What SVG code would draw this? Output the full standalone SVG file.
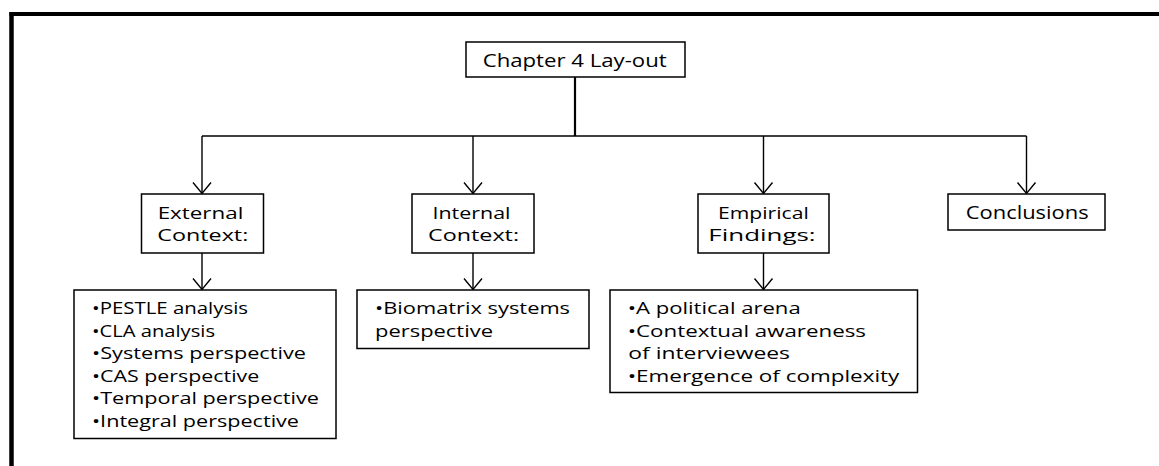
<svg xmlns="http://www.w3.org/2000/svg" width="1159" height="466" viewBox="0 0 1159 466">
  <style>
    .box { fill: #ffffff; stroke: #000000; stroke-width: 1.5; }
    .link { fill: none; stroke: #000000; stroke-width: 1.4; }
    .trunk { fill: none; stroke: #000000; stroke-width: 2.2; }
    .frame { fill: none; stroke: #000000; }
    .big { font-family: "Open Sans", "Liberation Sans", sans-serif; font-size: 19px; fill: #000000; }
    .txt { font-family: "Open Sans", "Liberation Sans", sans-serif; font-size: 16.5px; fill: #000000; }
  </style>
  <defs>
    <marker id="open-arrow" markerUnits="userSpaceOnUse" markerWidth="14" markerHeight="22" viewBox="0 0 14 22" refX="12" refY="10" orient="auto">
      <path d="M1,1 L12,10 L1,19" fill="none" stroke="#000000" stroke-width="1.4"/>
    </marker>
  </defs>

  <rect width="1159" height="466" fill="#ffffff"/>

  <!-- page frame: top and left edges only -->
  <g id="frame">
    <line class="frame" x1="11.5" y1="12" x2="11.5" y2="466" stroke-width="4.5"/>
    <line class="frame" x1="9.5" y1="14" x2="1159" y2="14" stroke-width="4"/>
  </g>

  <!-- connectors -->
  <g id="connectors">
    <line class="trunk" x1="575" y1="77" x2="575" y2="136"/>
    <line class="link" x1="202" y1="136" x2="1026.5" y2="136"/>
    <line class="link" x1="202" y1="136" x2="202" y2="193.5" marker-end="url(#open-arrow)"/>
    <line class="link" x1="473" y1="136" x2="473" y2="193.5" marker-end="url(#open-arrow)"/>
    <line class="link" x1="763.5" y1="136" x2="763.5" y2="193.5" marker-end="url(#open-arrow)"/>
    <line class="link" x1="1026.5" y1="136" x2="1026.5" y2="193.5" marker-end="url(#open-arrow)"/>
    <line class="link" x1="202" y1="253" x2="202" y2="289.5" marker-end="url(#open-arrow)"/>
    <line class="link" x1="473" y1="253" x2="473" y2="289.5" marker-end="url(#open-arrow)"/>
    <line class="link" x1="763.5" y1="253" x2="763.5" y2="289.5" marker-end="url(#open-arrow)"/>
  </g>

  <g id="chapter-layout">
    <rect class="box" x="466" y="42" width="219" height="35"/>
    <text class="big" x="574.7" y="66.7" text-anchor="middle" textLength="184" lengthAdjust="spacingAndGlyphs">Chapter 4 Lay-out</text>
  </g>

  <g id="external-context">
    <rect class="box" x="141.5" y="194" width="122" height="59"/>
    <text class="txt" x="200.5" y="219" text-anchor="middle" textLength="85.6" lengthAdjust="spacingAndGlyphs">External</text>
    <text class="txt" x="202.8" y="241" text-anchor="middle" textLength="91" lengthAdjust="spacingAndGlyphs">Context:</text>
  </g>

  <g id="internal-context">
    <rect class="box" x="412" y="194" width="122" height="59"/>
    <text class="txt" x="471.5" y="219" text-anchor="middle" textLength="78" lengthAdjust="spacingAndGlyphs">Internal</text>
    <text class="txt" x="473.5" y="241" text-anchor="middle" textLength="91" lengthAdjust="spacingAndGlyphs">Context:</text>
  </g>

  <g id="empirical-findings">
    <rect class="box" x="698" y="194" width="131" height="59"/>
    <text class="txt" x="763.4" y="219" text-anchor="middle" textLength="90.7" lengthAdjust="spacingAndGlyphs">Empirical</text>
    <text class="txt" x="762" y="241" text-anchor="middle" textLength="107.4" lengthAdjust="spacingAndGlyphs">Findings:</text>
  </g>

  <g id="conclusions">
    <rect class="box" x="948" y="194" width="157" height="36"/>
    <text class="big" x="1027.2" y="219.3" text-anchor="middle" textLength="123" lengthAdjust="spacingAndGlyphs">Conclusions</text>
  </g>

  <g id="external-list">
    <rect class="box" x="74" y="290" width="262" height="148.5"/>
    <text class="txt" x="92" y="314.3" textLength="156" lengthAdjust="spacingAndGlyphs">•PESTLE analysis</text>
    <text class="txt" x="92" y="336.7" textLength="123" lengthAdjust="spacingAndGlyphs">•CLA analysis</text>
    <text class="txt" x="92" y="359.3" textLength="214" lengthAdjust="spacingAndGlyphs">•Systems perspective</text>
    <text class="txt" x="92" y="381.7" textLength="167.3" lengthAdjust="spacingAndGlyphs">•CAS perspective</text>
    <text class="txt" x="92" y="404.3" textLength="227" lengthAdjust="spacingAndGlyphs">•Temporal perspective</text>
    <text class="txt" x="92" y="426.7" textLength="207" lengthAdjust="spacingAndGlyphs">•Integral perspective</text>
  </g>

  <g id="internal-list">
    <rect class="box" x="357" y="290" width="232" height="58.5"/>
    <text class="txt" x="375" y="314.3" textLength="195" lengthAdjust="spacingAndGlyphs">•Biomatrix systems</text>
    <text class="txt" x="375" y="336.7" textLength="118" lengthAdjust="spacingAndGlyphs">perspective</text>
  </g>

  <g id="empirical-list">
    <rect class="box" x="610" y="290" width="307.5" height="102.5"/>
    <text class="txt" x="627.7" y="314.3" textLength="173" lengthAdjust="spacingAndGlyphs">•A political arena</text>
    <text class="txt" x="627.7" y="336.7" textLength="238.3" lengthAdjust="spacingAndGlyphs">•Contextual awareness</text>
    <text class="txt" x="628.3" y="359.3" textLength="161.7" lengthAdjust="spacingAndGlyphs">of interviewees</text>
    <text class="txt" x="627.7" y="381.7" textLength="271.6" lengthAdjust="spacingAndGlyphs">•Emergence of complexity</text>
  </g>
</svg>
